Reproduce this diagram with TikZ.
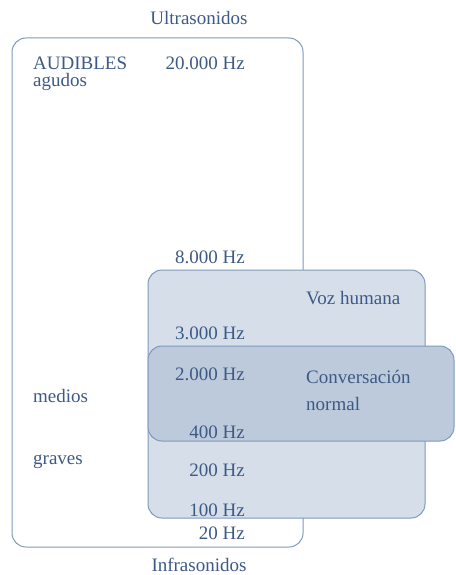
\documentclass[tikz,border=0pt]{standalone}
\usepackage{fontspec}
\newfontfamily\tms{Liberation Serif}
\definecolor{txt}{HTML}{3D5A85}
\definecolor{edge}{HTML}{7F99BB}
\definecolor{fillA}{HTML}{D6DEEA}
\definecolor{fillB}{HTML}{BCCADC}
\begin{document}
\begin{tikzpicture}[x=1pt,y=-1pt,
  box/.style={draw=edge,line width=1pt,rounded corners=14pt},
  lbl/.style={text=txt,font=\tms\fontsize{19}{22}\selectfont,inner sep=0pt},
  hz/.style={lbl,anchor=east},
  lft/.style={lbl,anchor=west}]
\useasboundingbox (0,0) rectangle (455,575);
\draw[box] (12,38) rectangle (303,547);
\draw[box,fill=fillA] (148,270) rectangle (425,518);
\draw[box,fill=fillB] (148,346) rectangle (454,441);
\node[lbl] (ultra) at (199,18) {Ultrasonidos};
\node[lbl] (infra) at (199,565) {Infrasonidos};
\node[lft] (aud) at (33,63) {AUDIBLES};
\node[lft] (agu) at (33,82) {agudos};
\node[lft] (med) at (33,396) {medios};
\node[lft] (gra) at (33,462) {graves};
\node[hz] (f20k) at (245,63) {20.000 Hz};
\node[hz] (f8k) at (245,257) {8.000 Hz};
\node[hz] (f3k) at (245,333) {3.000 Hz};
\node[hz] (f2k) at (245,374) {2.000 Hz};
\node[hz] (f400) at (245,432) {400 Hz};
\node[hz] (f200) at (245,470) {200 Hz};
\node[hz] (f100) at (245,510) {100 Hz};
\node[hz] (f20) at (245,533) {20 Hz};
\node[lft] (voz) at (306,298) {Voz humana};
\node[lft] (conv) at (306,377) {Conversación};
\node[lft] (norm) at (306,404) {normal};
\end{tikzpicture}
\end{document}
